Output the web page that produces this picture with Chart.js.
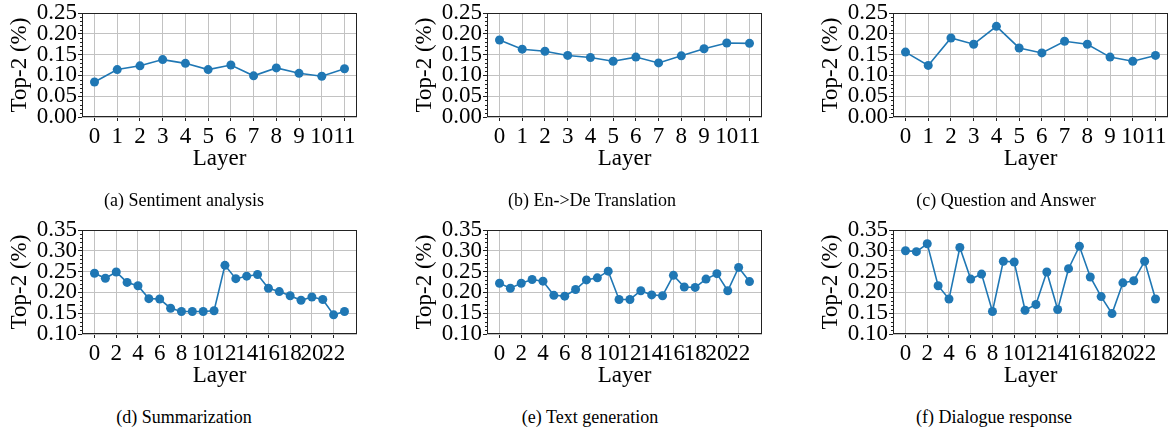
<!DOCTYPE html>
<html>
<head>
<meta charset="utf-8">
<script src="https://cdn.jsdelivr.net/npm/chart.js@4.4.1/dist/chart.umd.min.js"></script>
<style>
body{margin:0;width:1169px;height:430px;overflow:hidden;background:#fff;position:relative;font-family:"Liberation Serif",serif}
canvas{position:absolute}
.cap{position:absolute;font-size:18px;color:#000;transform:translate(-50%,-50%);white-space:nowrap}
</style>
</head>
<body>
<canvas id="ca" width="367" height="184"></canvas>
<canvas id="cb" width="367" height="184"></canvas>
<canvas id="cc" width="367" height="184"></canvas>
<canvas id="cd" width="367" height="184"></canvas>
<canvas id="ce" width="367" height="184"></canvas>
<canvas id="cf" width="367" height="184"></canvas>
<div class="cap" style="left:184px;top:200px">(a) Sentiment analysis</div>
<div class="cap" style="left:592px;top:200px">(b) En-&gt;De Translation</div>
<div class="cap" style="left:1006px;top:200px">(c) Question and Answer</div>
<div class="cap" style="left:184px;top:417px">(d) Summarization</div>
<div class="cap" style="left:590px;top:417px">(e) Text generation</div>
<div class="cap" style="left:994px;top:417px">(f) Dialogue response</div>
<script>
// data
let layers12=[0,1,2,3,4,5,6,7,8,9,10,11];
let layers24=[0,1,2,3,4,5,6,7,8,9,10,11,12,13,14,15,16,17,18,19,20,21,22,23];
let xTicks12=[0,1,2,3,4,5,6,7,8,9,10,11];
let xTicks24=[0,2,4,6,8,10,12,14,16,18,20,22];
let yTicksTop=[0,0.05,0.10,0.15,0.20,0.25];
let yTicksBottom=[0.10,0.15,0.20,0.25,0.30,0.35];

let sentiment=[0.084,0.114,0.123,0.138,0.129,0.114,0.125,0.099,0.118,0.105,0.098,0.116];
let translation=[0.185,0.163,0.158,0.148,0.143,0.134,0.144,0.130,0.147,0.164,0.178,0.177];
let qa=[0.156,0.124,0.190,0.175,0.218,0.166,0.154,0.182,0.175,0.144,0.134,0.148];
let summarization=[0.246,0.234,0.249,0.224,0.216,0.185,0.184,0.162,0.154,0.154,0.154,0.156,
  0.265,0.233,0.239,0.243,0.210,0.202,0.192,0.181,0.189,0.183,0.146,0.154];
let textgen=[0.222,0.210,0.222,0.231,0.227,0.193,0.191,0.207,0.230,0.235,0.251,0.183,
  0.183,0.204,0.194,0.192,0.241,0.213,0.212,0.232,0.245,0.204,0.260,0.226];
let dialogue=[0.300,0.298,0.317,0.216,0.184,0.308,0.232,0.244,0.154,0.275,0.273,0.157,
  0.171,0.249,0.159,0.257,0.311,0.237,0.190,0.149,0.223,0.228,0.275,0.184];

// layout: plot area left/top in page px
let panels=[
  {id:"ca",left:82,top:13,layers:layers12,vals:sentiment,xt:xTicks12,yt:yTicksTop},
  {id:"cb",left:487,top:13,layers:layers12,vals:translation,xt:xTicks12,yt:yTicksTop},
  {id:"cc",left:893,top:13,layers:layers12,vals:qa,xt:xTicks12,yt:yTicksTop},
  {id:"cd",left:82,top:230,layers:layers24,vals:summarization,xt:xTicks24,yt:yTicksBottom},
  {id:"ce",left:487,top:230,layers:layers24,vals:textgen,xt:xTicks24,yt:yTicksBottom},
  {id:"cf",left:893,top:230,layers:layers24,vals:dialogue,xt:xTicks24,yt:yTicksBottom}
];

const AXW=82, PADL=6, PADT=20, XH=60;
const blue="#1f77b4", font="'Liberation Serif', 'Times New Roman', serif";
const gridCol="#c2c2c2";

// box frame + minor y ticks like matplotlib
const frame={id:"frame",afterDraw(c){
  let ctx=c.ctx, a=c.chartArea, y=c.scales.y;
  ctx.save();
  ctx.strokeStyle="#222"; ctx.lineWidth=1;
  ctx.beginPath();
  for(let v=Math.round(y.min*100);v<=Math.round(y.max*100);v++){
    if(v%5===0) continue;
    let py=Math.round(y.getPixelForValue(v/100))+0.5;
    ctx.moveTo(a.left-2,py); ctx.lineTo(a.left,py);
  }
  ctx.stroke();
  ctx.strokeRect(Math.round(a.left)+0.5,Math.round(a.top)+0.5,Math.round(a.right-a.left)-1,Math.round(a.bottom-a.top)-1);
  ctx.restore();
}};

panels.forEach(p=>{
  let cv=document.getElementById(p.id);
  cv.style.left=(p.left-AXW)+"px";
  cv.style.top=(p.top-PADT)+"px";
  let first=p.layers[0], last=p.layers[p.layers.length-1], m=(last-first)*0.05;
  new Chart(cv,{
    type:"line",
    data:{datasets:[{
      data:p.vals.map((v,i)=>({x:p.layers[i],y:v})),
      borderColor:blue,backgroundColor:blue,borderWidth:1.6,
      pointRadius:4.5,pointBorderWidth:0,pointBackgroundColor:blue,tension:0
    }]},
    options:{
      responsive:false,animation:false,
      layout:{padding:{left:PADL,top:PADT,right:10,bottom:0}},
      plugins:{legend:{display:false},tooltip:{enabled:false}},
      scales:{
        x:{type:"linear",min:first-m,max:last+m,
          afterBuildTicks:s=>{s.ticks=p.xt.map(v=>({value:v}));},
          afterFit:s=>{s.height=XH;},
          grid:{color:gridCol,lineWidth:1,tickLength:4,tickColor:"#222"},
          border:{display:false},
          ticks:{font:{family:font,size:23},color:"#000",padding:2,maxRotation:0,autoSkip:false,
            callback:v=>String(v)},
          title:{display:true,text:"Layer",font:{family:font,size:23},color:"#000",padding:{top:0,bottom:4}}
        },
        y:{min:p.yt[0],max:p.yt[p.yt.length-1],
          afterBuildTicks:s=>{s.ticks=p.yt.map(v=>({value:v}));},
          afterFit:s=>{s.width=AXW-PADL;},
          grid:{color:gridCol,lineWidth:1,tickLength:4,tickColor:"#222"},
          border:{display:false},
          ticks:{font:{family:font,size:23},color:"#000",padding:1,autoSkip:false,callback:v=>v.toFixed(2)},
          title:{display:true,text:"Top-2 (%)",font:{family:font,size:23},color:"#000",padding:{top:0,bottom:0}}
        }
      }
    },
    plugins:[frame]
  });
});
</script>
</body>
</html>
